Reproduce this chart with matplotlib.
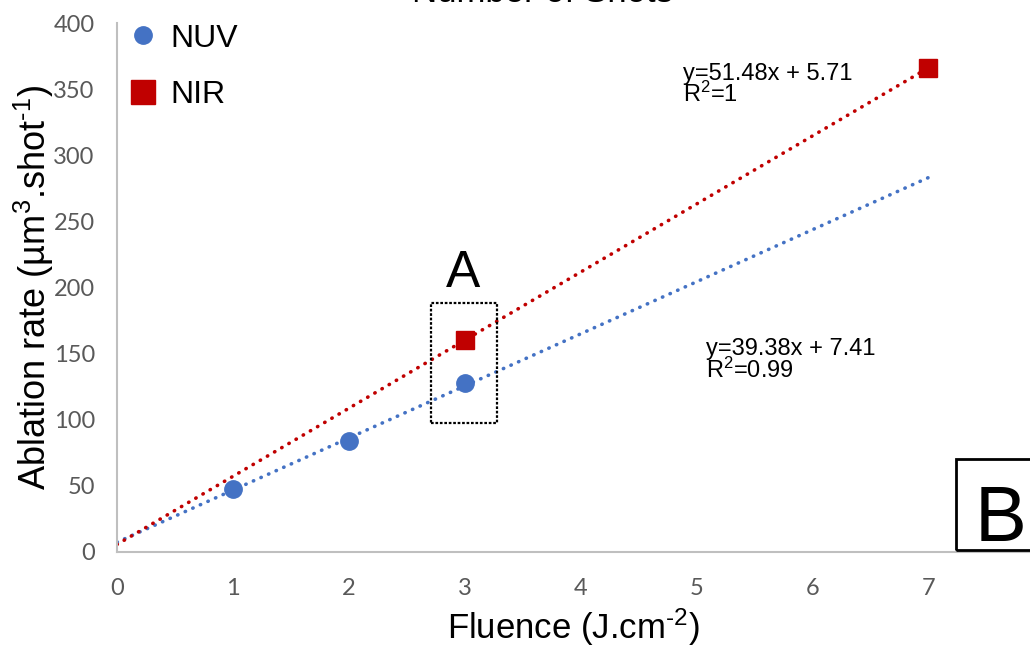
import matplotlib
matplotlib.use("Agg")
import matplotlib.pyplot as plt
from matplotlib.patches import Rectangle
from matplotlib.lines import Line2D
import numpy as np

# Measured ablation rates (µm^3 per shot) versus fluence (J/cm^2)
nuv_fluence = [1, 2, 3]
nuv_rate = [48, 84, 128]
nir_fluence = [3, 7]
nir_rate = [160, 366]

# Linear trendlines (slope, intercept, R^2)
nuv_fit = (39.38, 7.41, "0.99")
nir_fit = (51.48, 5.71, "1")
trend_x = [0, 7]

x_ticks = [0, 1, 2, 3, 4, 5, 6, 7]
y_ticks = [0, 50, 100, 150, 200, 250, 300, 350, 400]

BLUE = "#4472C4"
RED = "#C00000"
AXIS_GREY = "#BFBFBF"
TICK_GREY = "#595959"

plt.rcParams["font.family"] = ["Liberation Sans", "DejaVu Sans"]
plt.rcParams["mathtext.fontset"] = "custom"
plt.rcParams["mathtext.rm"] = "Liberation Sans"
plt.rcParams["mathtext.it"] = "Liberation Sans"
plt.rcParams["mathtext.bf"] = "Liberation Sans"

W, H = 1030, 646
fig = plt.figure(figsize=(W / 100, H / 100), dpi=100)
left, bottom, top = 117, 552, 23
ax = fig.add_axes([left / W, (H - bottom) / H, (W - left) / W, (bottom - top) / H])

ax.set_xlim(0, (W - left) / 115.9)
ax.set_ylim(0, 400)

for s in ("top", "right"):
    ax.spines[s].set_visible(False)
for s in ("left", "bottom"):
    ax.spines[s].set_color(AXIS_GREY)
    ax.spines[s].set_linewidth(1.5)

ax.set_xticks(x_ticks)
ax.set_yticks(y_ticks)
ax.tick_params(length=0, colors=TICK_GREY, labelsize=17)
ax.tick_params(axis="y", pad=16)
ax.tick_params(axis="x", pad=19)
for lab in ax.get_xticklabels() + ax.get_yticklabels():
    lab.set_fontfamily("Lato")

# Trendlines
tx = np.array(trend_x, dtype=float)
dot = (0, (0.1, 2.2))
for (m, b, _), col in ((nuv_fit, BLUE), (nir_fit, RED)):
    ax.plot(tx, m * tx + b, color=col, lw=2.6, linestyle=dot,
            dash_capstyle="round", zorder=2)

# Data points
ax.plot(nuv_fluence, nuv_rate, "o", color=BLUE, ms=12.5, mec=BLUE, zorder=3)
ax.plot(nir_fluence, nir_rate, "s", color=RED, ms=12.5, mec=RED, zorder=3)

# Fit equations
eq_size = 17
ax.text(4.883, 357, f"y={nir_fit[0]:.2f}x + {nir_fit[1]:.2f}", fontsize=eq_size,
        va="baseline", ha="left")
ax.text(4.883, 340, f"R$^2$={nir_fit[2]}", fontsize=eq_size, va="baseline",
        ha="left")
ax.text(5.082, 149, f"y={nuv_fit[0]:.2f}x + {nuv_fit[1]:.2f}", fontsize=eq_size,
        va="baseline", ha="left")
ax.text(5.082, 132, f"R$^2$={nuv_fit[2]}", fontsize=eq_size, va="baseline",
        ha="left")

# Highlight region "A"
ax.add_patch(Rectangle((2.71, 97.6), 0.57, 90.7, fill=False, ec="black",
                       lw=1.6, ls=(0, (1.2, 0.8)), zorder=4))
ax.text(2.985, 200.5, "A", fontsize=37, ha="center", va="baseline")

# Panel label "B"
fig.patches.append(Rectangle((956 / W, (H - 550) / H), 80 / W, 91 / H,
                             transform=fig.transFigure, fill=False,
                             ec="black", lw=2, zorder=5))
fig.text(975 / W, (H - 541) / H, "B", fontsize=56, ha="left", va="baseline")

# Title (runs off the top of the canvas)
fig.text(542 / W, 1 - 2 / H, "Number of Shots", fontsize=25, ha="center",
         va="baseline")

# Axis labels
ax.set_xlabel("Fluence (J.cm$^{\u2010 2}$)", fontsize=25, labelpad=5)
ax.set_ylabel("Ablation rate (µm$^3$.shot$^{\u2010 1}$)", fontsize=26,
              labelpad=-2)

# Legend
handles = [
    Line2D([], [], marker="o", ls="none", color=BLUE, ms=12.5),
    Line2D([], [], marker="s", ls="none", color=RED, ms=17),
]
ax.legend(handles, ["NUV", "NIR"], loc="upper left",
          bbox_to_anchor=(-0.0186, 1.035), frameon=False, fontsize=23,
          handletextpad=0.1, labelspacing=0.83, borderaxespad=0.2,
          handlelength=1.5)

fig.savefig("out.png", dpi=100)
